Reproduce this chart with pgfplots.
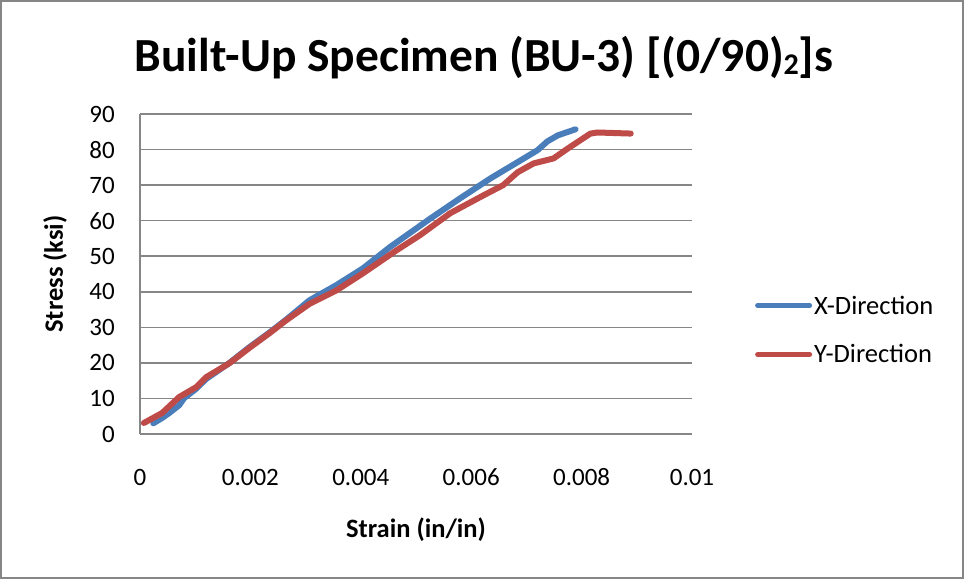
\documentclass[border=0pt]{standalone}
\usepackage{fontspec}
\setmainfont{Carlito}
\usepackage{pgfplots}
\pgfplotsset{compat=1.18}
\definecolor{xblue}{HTML}{4A7EBB}
\definecolor{yred}{HTML}{BE4B48}
\definecolor{gridg}{HTML}{868686}
\begin{document}
\begin{tikzpicture}
\path[use as bounding box] (0pt,0pt) rectangle (964pt,579pt);
\draw[gridg, line width=2pt] (1pt,1pt) rectangle (963pt,578pt);
\node[font=\fontsize{47.5}{56}\selectfont\bfseries] at (484pt,521pt) {Built-Up Specimen (BU-3) [(0/90)\raisebox{-0.12ex}{\fontsize{30}{32}\selectfont 2}]s};
\begin{axis}[
  at={(140pt,145pt)}, anchor=south west, scale only axis,
  width=552pt, height=320pt,
  xmin=0, xmax=0.01, ymin=0, ymax=90,
  xtick={0,0.002,0.004,0.006,0.008,0.01},
  ytick={0,10,...,90},
  ymajorgrids, grid style={gridg, line width=1.5pt},
  axis x line*=bottom, axis y line*=left,
  axis line style={gridg, line width=1.5pt, -},
  major tick length=0pt, tick style={draw=none},
  ticklabel style={font=\fontsize{25}{30}\selectfont},
  /pgf/number format/assume math mode=true,
  scaled x ticks=false,
  xticklabel style={/pgf/number format/fixed, /pgf/number format/precision=3, anchor=center, inner sep=0pt, yshift=-43pt},
  yticklabel style={anchor=east, inner sep=0pt, xshift=-25pt},
  xlabel={Strain (in/in)}, ylabel={Stress (ksi)},
  label style={font=\fontsize{26.5}{31}\selectfont\bfseries},
  xlabel style={at={(axis description cs:0.5,-0.3)}, anchor=center},
  ylabel style={at={(axis description cs:-0.154,0.5)}, anchor=center},
  legend style={at={(axis description cs:1.114,0.325)}, anchor=west, draw=none, fill=none,
    font=\fontsize{26.5}{30}\selectfont, row sep=25pt, inner sep=0pt},
  legend cell align=left,
  legend image code/.code={\draw[#1, line width=5pt, line cap=round] (0pt,0pt) -- (52pt,0pt);},
]
\addplot[xblue, line width=6pt, line join=round, line cap=round] table {
x y
0.00024 3.0
0.00040 4.5
0.00053 5.9
0.00071 8.1
0.00080 10.1
0.00100 12.5
0.00120 15.5
0.00162 20.0
0.00198 24.4
0.00235 28.6
0.00265 32.2
0.00307 37.6
0.00356 41.9
0.00404 46.6
0.00453 52.6
0.00525 60.5
0.00580 66.3
0.00635 71.9
0.00720 79.8
0.00738 82.3
0.00757 84.0
0.00789 85.7
};
\addlegendentry{X-Direction}
\addplot[yred, line width=6pt, line join=round, line cap=round] table {
x y
0.00007 3.1
0.00040 5.9
0.00071 10.4
0.00102 13.2
0.00120 16.0
0.00162 19.9
0.00198 24.2
0.00235 28.4
0.00265 32.0
0.00307 36.6
0.00356 40.4
0.00404 45.2
0.00465 51.7
0.00507 55.9
0.00562 62.1
0.00622 67.1
0.00658 70.0
0.00684 73.6
0.00713 76.1
0.00749 77.5
0.00775 80.3
0.00816 84.5
0.00829 84.8
0.00889 84.5
};
\addlegendentry{Y-Direction}
\end{axis}
\end{tikzpicture}
\end{document}
